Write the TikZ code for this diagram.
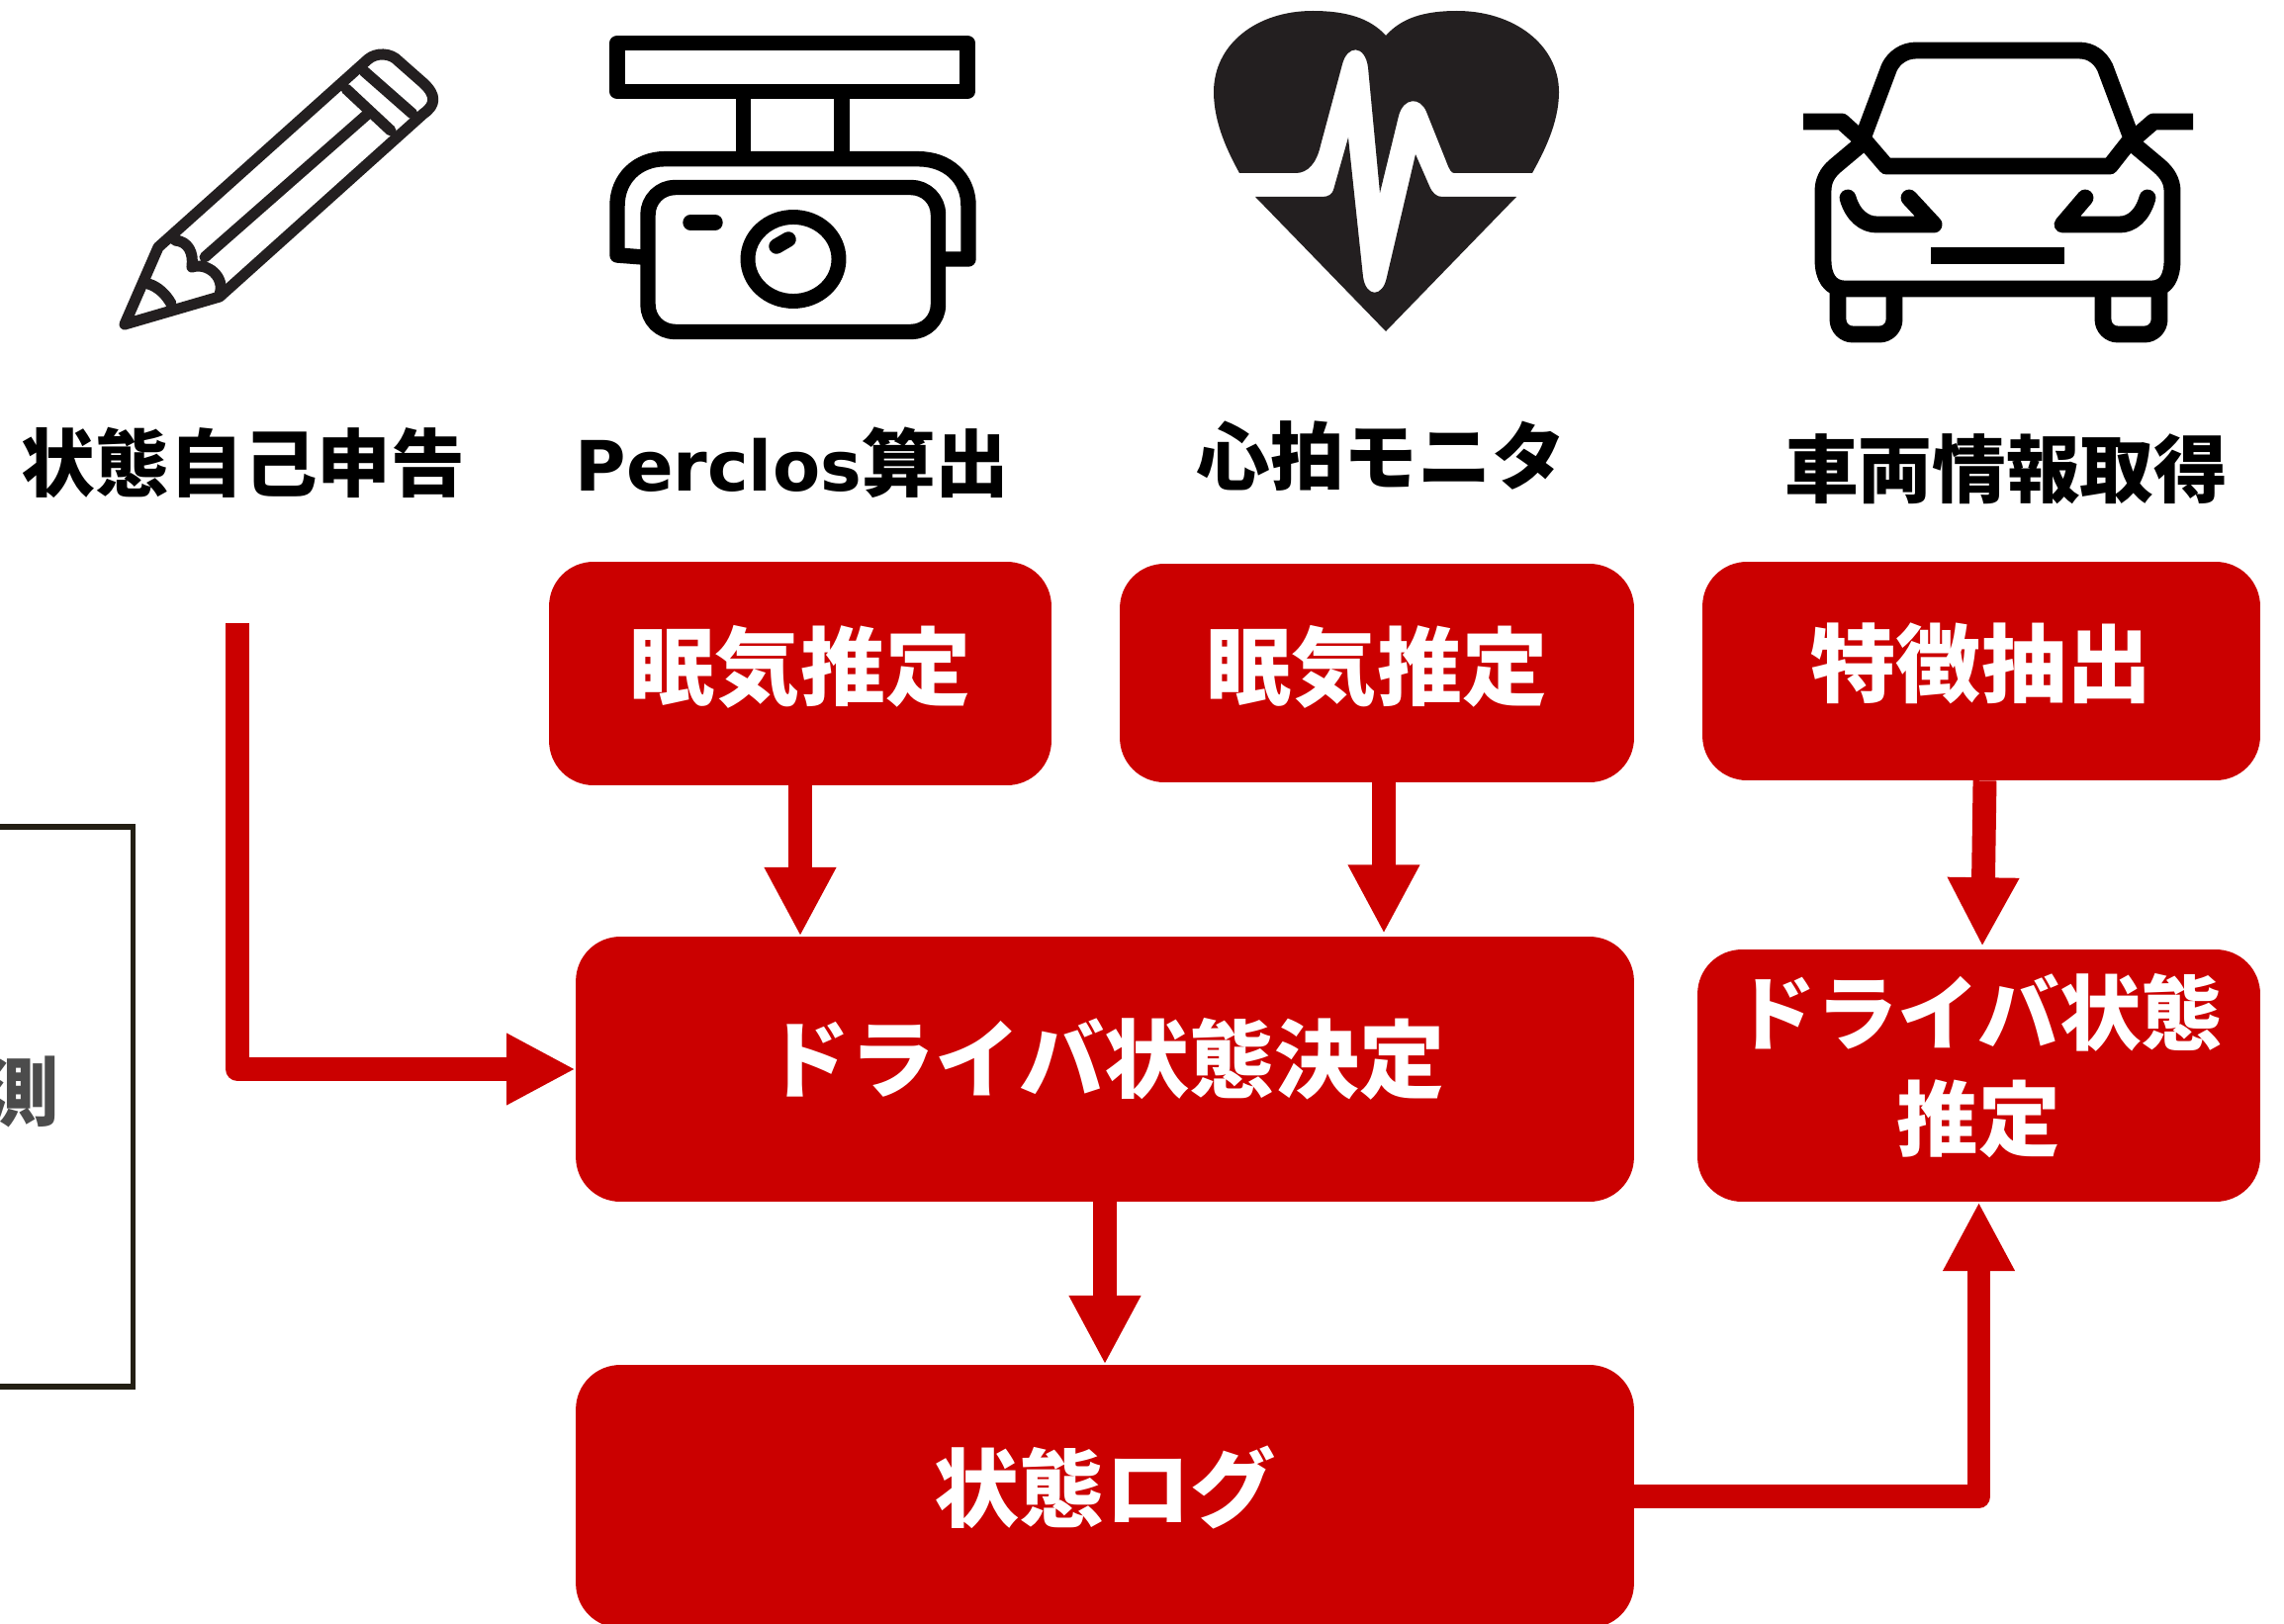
\documentclass[tikz,border=0pt]{standalone}
\usepackage{fontspec}
\usetikzlibrary{arrows.meta}
\setmainfont{Noto Sans CJK JP}
\newfontfamily\latinfont[Scale=0.94]{DejaVu Sans}
\definecolor{boxred}{HTML}{CB0000}
\definecolor{iconblack}{HTML}{231F20}
\definecolor{edgeblack}{HTML}{231F14}
\tikzset{
    redbox/.style={fill=boxred,text=white,rounded corners=0.9cm,inner sep=0pt,align=center,
        font=\fontsize{49}{60.7}\selectfont\bfseries},
    flowline/.style={draw=boxred,line width=13.6pt,line join=round,
        -{Triangle[length=39.7pt,width=38.5pt]}},
    iconlabel/.style={text=black,inner sep=0pt,font=\fontsize{42.5}{50}\selectfont\bfseries},
    iconline/.style={draw=black,line width=8.8pt,line join=round},
    carline/.style={draw=black,line width=9.6pt,line join=round},
}
\begin{document}
\begin{tikzpicture}[x=0.02cm,y=-0.02cm]
    \useasboundingbox (0,0) rectangle (2309,1642);

    % pencil
    \begin{scope}[draw=iconblack,line width=6.3pt,line join=round,line cap=round]
        \draw (126,328) -- (160,250) -- (372,60) .. controls (380,53) and (395,53) .. (403,62)
            -- (428,84) .. controls (441,96) and (441,106) .. (428,115) -- (222,300) -- cycle;
        \draw (350,90) -- (395,132);
        \draw (368,72) -- (417,115);
        \draw (372,115) -- (207,260);
        \draw (177,243) .. controls (190,244) and (196,255) .. (194,270)
            .. controls (210,265) and (228,280) .. (222,298);
        \draw (150,287) .. controls (160,290) and (168,298) .. (173,307);
    \end{scope}

    % camera
    \draw[iconline] (624,43.5) rectangle (978,92.5);
    \draw[iconline] (751.5,92.5) -- (751.5,160.7) (851,92.5) -- (851,160.7);
    \draw[iconline] (650,260) -- (624,258) -- (624,208) .. controls (624,180) and (645,160.7) .. (672,160.7)
        -- (928,160.7) .. controls (958,160.7) and (979,180) .. (979,208) -- (979,262) -- (952,262);
    \draw[iconline,rounded corners=0.55cm] (655,189.5) rectangle (948.5,335.5);
    \draw[iconline,line cap=round] (698,225) -- (723,225);
    \draw[iconline,line width=8.5pt] (802,262) ellipse (46 and 42.5);
    \draw[iconline,line cap=round] (785,249) -- (797,242);

    % heart
    \fill[iconblack] (1401,36) .. controls (1385,18) and (1360,11) .. (1327,11)
        .. controls (1270,11) and (1227,45) .. (1227,93) .. controls (1227,125) and (1242,155) .. (1253,175)
        -- (1310,175) .. controls (1322,175) and (1331,165) .. (1335,147) -- (1357,65)
        .. controls (1362,45) and (1380,45) .. (1383,68) -- (1395,195) -- (1414,117)
        .. controls (1419,98) and (1436,98) .. (1442,113) -- (1462,163)
        .. controls (1465,171) and (1467,175) .. (1470,175) -- (1549,175)
        .. controls (1560,155) and (1576,125) .. (1576,93) .. controls (1576,45) and (1530,11) .. (1473,11)
        .. controls (1440,11) and (1417,18) .. (1401,36) -- cycle;
    \fill[iconblack] (1269,199) -- (1337,199) .. controls (1343,199) and (1347,196) .. (1348,192)
        -- (1363,139) -- (1378,280) .. controls (1381,301) and (1398,301) .. (1402,280)
        -- (1431,156) -- (1445,188) .. controls (1448,195) and (1452,199) .. (1458,199) -- (1533,199)
        -- (1401,335) -- cycle;

    % car
    \draw[carline] (1883,140) -- (1910,68) .. controls (1915,58) and (1925,51) .. (1937,51) -- (2102,51)
        .. controls (2114,51) and (2123,58) .. (2128,68) -- (2155,140) -- (2133,168) -- (1907,168) -- cycle;
    \draw[carline] (1823,123) -- (1862,123) -- (1883,142);
    \draw[carline] (2217,123) -- (2177,123) -- (2155,142);
    \draw[carline] (1880,147) -- (1855,168) .. controls (1847,175) and (1843,183) .. (1843,193) -- (1843,263)
        .. controls (1843,280) and (1850,292) .. (1865,292) -- (2175,292)
        .. controls (2190,292) and (2196,280) .. (2196,263) -- (2196,193)
        .. controls (2196,183) and (2191,175) .. (2183,168) -- (2158,147);
    \draw[carline,rounded corners=0.3cm] (1858,292) -- (1858,338) -- (1915,338) -- (1915,292);
    \draw[carline,rounded corners=0.3cm] (2126,292) -- (2126,338) -- (2183,338) -- (2183,292);
    \draw[carline,line cap=round] (1868,200) .. controls (1873,218) and (1885,227) .. (1897,227)
        -- (1955,227) -- (1930,200);
    \draw[carline,line cap=round] (2171,200) .. controls (2166,218) and (2155,227) .. (2143,227)
        -- (2085,227) -- (2108,200);
    \fill[black] (1952,250) rectangle (2087,267);

    % icon names
    \node[iconlabel] (selfreport) at (246,468) {状態自己申告};
    \node[iconlabel] (perclos) at (801,468) {{\latinfont Perclos}算出};
    \node[iconlabel] (pulse) at (1396,461) {心拍モニタ};
    \node[iconlabel] (carinfo) at (2028,474) {車両情報取得};

    % left box, cut by the page
    \node[draw=edgeblack,line width=3pt,minimum width=6cm,minimum height=11.32cm,anchor=east]
        (measurebox) at (137,1119) {};
    \node[anchor=east,inner sep=0pt,text=black!70,font=\fontsize{43}{43}\selectfont\bfseries]
        (measure) at (60,1104) {測};

    % red boxes
    \node[redbox,minimum width=10.16cm,minimum height=4.52cm] (sleepa) at (809,681) {\raisebox{13pt}{眠気推定}};
    \node[redbox,minimum width=10.4cm,minimum height=4.42cm] (sleepb) at (1392,680.5) {\raisebox{13pt}{眠気推定}};
    \node[redbox,minimum width=11.28cm,minimum height=4.42cm] (feature) at (2003,678.5) {\raisebox{13pt}{特徴抽出}};
    \node[redbox,minimum width=21.4cm,minimum height=5.36cm] (decide) at (1117,1081) {\raisebox{16.5pt}{ドライバ状態決定}};
    \node[redbox,minimum width=11.38cm,minimum height=5.1cm,font=\fontsize{47}{60.7}\selectfont\bfseries]
        (estimate) at (2000.5,1087.5) {\raisebox{7pt}{\begin{tabular}{@{}c@{}}ドライバ状態\\推定\end{tabular}}};
    \node[redbox,minimum width=21.4cm,minimum height=5.32cm] (statelog) at (1117,1513) {\raisebox{15.7pt}{状態ログ}};

    % arrows
    \coordinate (selfstart) at (240,630);
    \coordinate (sleepbin) at (1399,944);
    \coordinate (featurein) at (2004,957);
    \draw[flowline] (selfstart) |- (decide.west);
    \draw[flowline] (sleepa.south) -- (sleepa.south |- decide.north);
    \draw[flowline] (sleepb.south -| sleepbin) -- (sleepbin);
    \draw[flowline] ([xshift=2pt]feature.south) -- (featurein);
    \draw[flowline] (decide.south) -- (statelog.north);
    \draw[flowline] (statelog.east) -| (estimate.south);
\end{tikzpicture}
\end{document}
